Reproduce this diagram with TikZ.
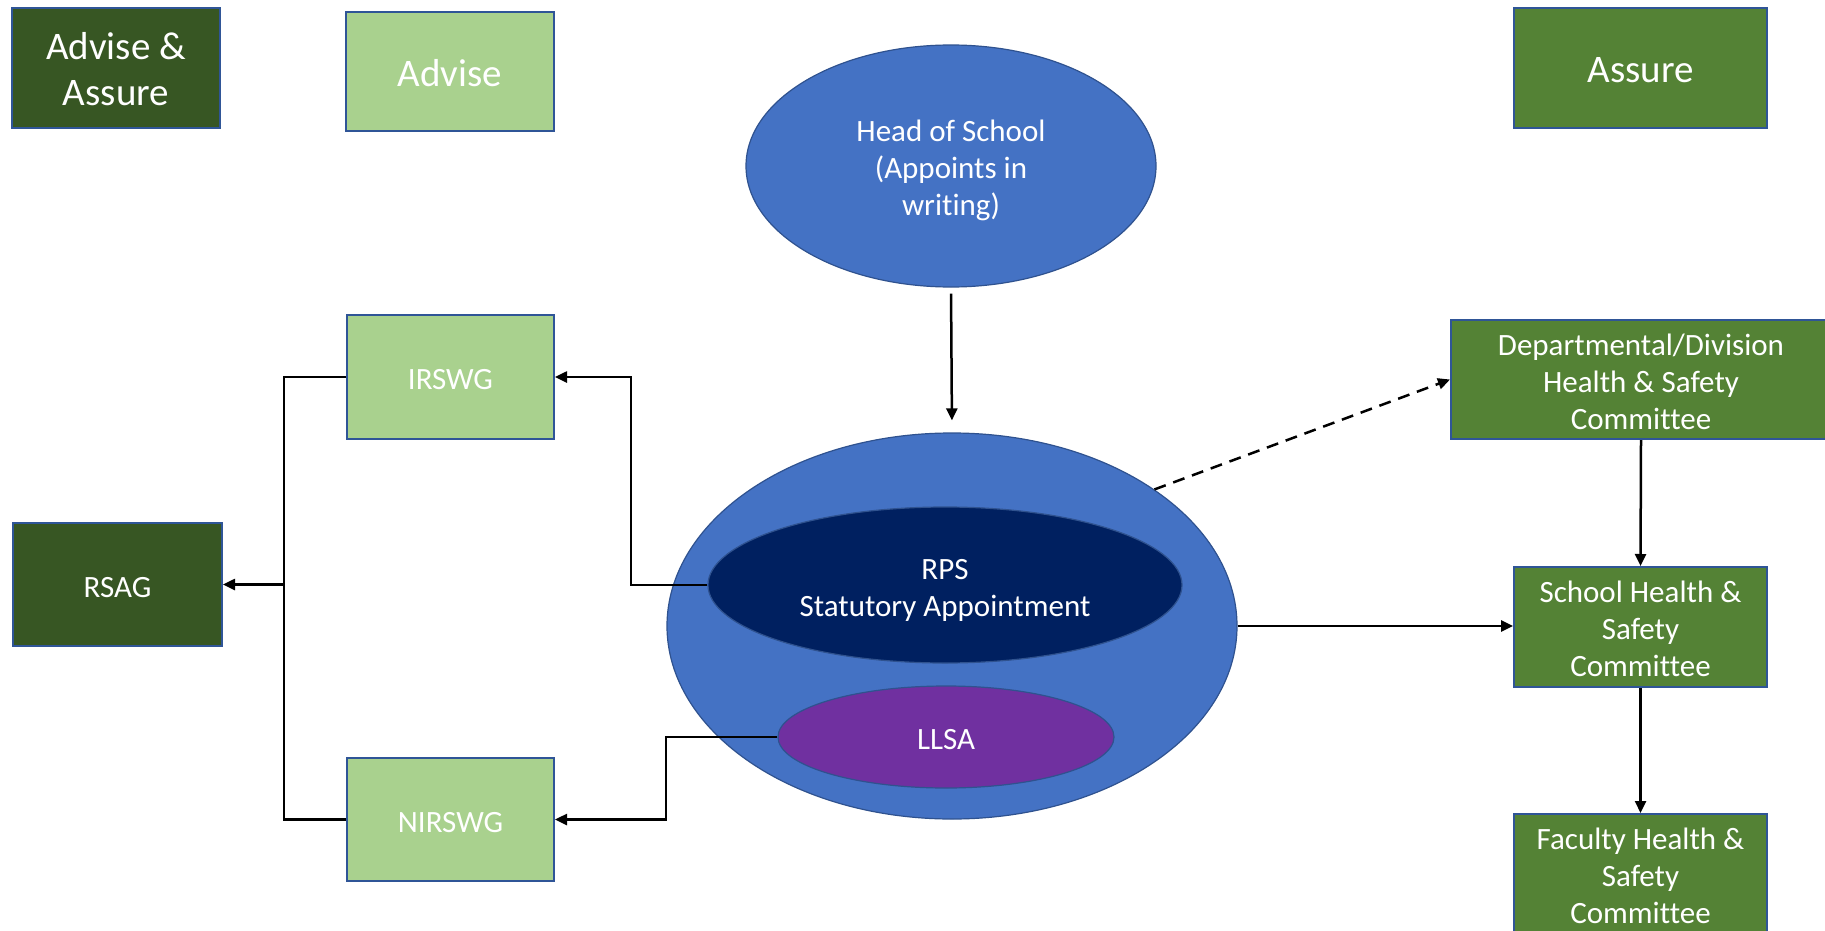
\documentclass[tikz,border=0pt]{standalone}
\usepackage{fontspec}
\setmainfont{Carlito}[Ligatures={NoCommon}]
\usetikzlibrary{arrows.meta,shapes.geometric}
\definecolor{dkgreen}{HTML}{375623}
\definecolor{ltgreen}{HTML}{A9D18E}
\definecolor{mdgreen}{HTML}{548235}
\definecolor{bordblue}{HTML}{2F5597}
\definecolor{ellblue}{HTML}{4472C4}
\definecolor{ellbord}{HTML}{2F528F}
\definecolor{navy}{HTML}{002060}
\definecolor{purp}{HTML}{7030A0}
\newcommand\tl[1]{\raisebox{-2.6pt}[\height][\depth]{\begin{tabular}{@{}c@{}}#1\end{tabular}}}
\tikzset{
  box/.style={rectangle, draw=bordblue, line width=1pt, text=white, align=center, inner sep=0pt,
    font=\fontsize{15.5}{18.5}\selectfont},
  bigtext/.style={font=\fontsize{19.5}{23.3}\selectfont},
  ell/.style={ellipse, draw=ellbord, line width=0.6pt, text=white, align=center, inner sep=0pt,
    font=\fontsize{15.5}{18.5}\selectfont},
  conn/.style={line width=1.25pt, black},
  arr/.style={conn, -{Triangle[length=6pt,width=5.5pt]}}
}
\begin{document}
\begin{tikzpicture}[x=0.5pt,y=-0.5pt]
\useasboundingbox (0,0) rectangle (1825,931);
\fill[white] (0,0) rectangle (1825,931);

% legend boxes
\node[box, bigtext, fill=dkgreen, minimum width=104pt, minimum height=60pt] (aa) at (116,68) {\tl{Advise \&\\Assure}};
\node[box, bigtext, fill=ltgreen, minimum width=104pt, minimum height=59.5pt] (adv) at (450,71.5) {\tl{Advise}};
\node[box, bigtext, fill=mdgreen, minimum width=126.5pt, minimum height=60pt] (ass) at (1640.5,68) {\tl{Assure}};

% ellipses
\node[ell, fill=ellblue, minimum width=205pt, minimum height=121pt] (head) at (951,166) {\tl{Head of School\\(Appoints in\\writing)}};
\node[ell, fill=ellblue, minimum width=285pt, minimum height=193pt] (big) at (952,626) {};
\node[ell, fill=navy, minimum width=237pt, minimum height=78pt] (rps) at (945,585) {\tl{RPS\\Statutory Appointment}};
\node[ell, fill=purp, minimum width=168pt, minimum height=51pt] (llsa) at (946,737) {\tl{LLSA}};

% left boxes
\node[box, fill=ltgreen, minimum width=103.5pt, minimum height=62pt] (irswg) at (450.5,377) {\tl{IRSWG}};
\node[box, fill=ltgreen, minimum width=103.5pt, minimum height=61.5pt] (nirswg) at (450.5,819.5) {\tl{NIRSWG}};
\node[box, fill=dkgreen, minimum width=104.5pt, minimum height=61.5pt] (rsag) at (117.5,584.5) {\tl{RSAG}};

% right boxes
\node[box, fill=mdgreen, minimum width=190pt, minimum height=59.5pt] (dept) at (1641,379.5) {\tl{Departmental/Division\\Health \& Safety\\Committee}};
\node[box, fill=mdgreen, minimum width=126.5pt, minimum height=60pt] (school) at (1640.5,627) {\tl{School Health \&\\Safety\\Committee}};
\node[box, fill=mdgreen, minimum width=126.5pt, minimum height=60pt] (fac) at (1640.5,874) {\tl{Faculty Health \&\\Safety\\Committee}};

% connectors
\draw[arr, shorten <=3pt, shorten >=6pt] (head.south) -- (big.north);
\draw[arr] (rps.west) -- (631,585) |- (irswg.east);
\draw[arr] (llsa.west) -- (666,737) |- (nirswg.east);
\coordinate (junc) at (284,584.5);
\draw[conn] (irswg.west) -- (284,377) |- (nirswg.west);
\draw[arr] (junc) -- (rsag.east);
\draw[arr] (big.east) -- (school.west |- big.east);
\draw[arr, dashed, dash pattern=on 6pt off 4pt] (big.34) -- (dept.west);
\draw[arr] (dept.south) -- (school.north);
\draw[arr] (school.south) -- (fac.north);
\end{tikzpicture}
\end{document}
